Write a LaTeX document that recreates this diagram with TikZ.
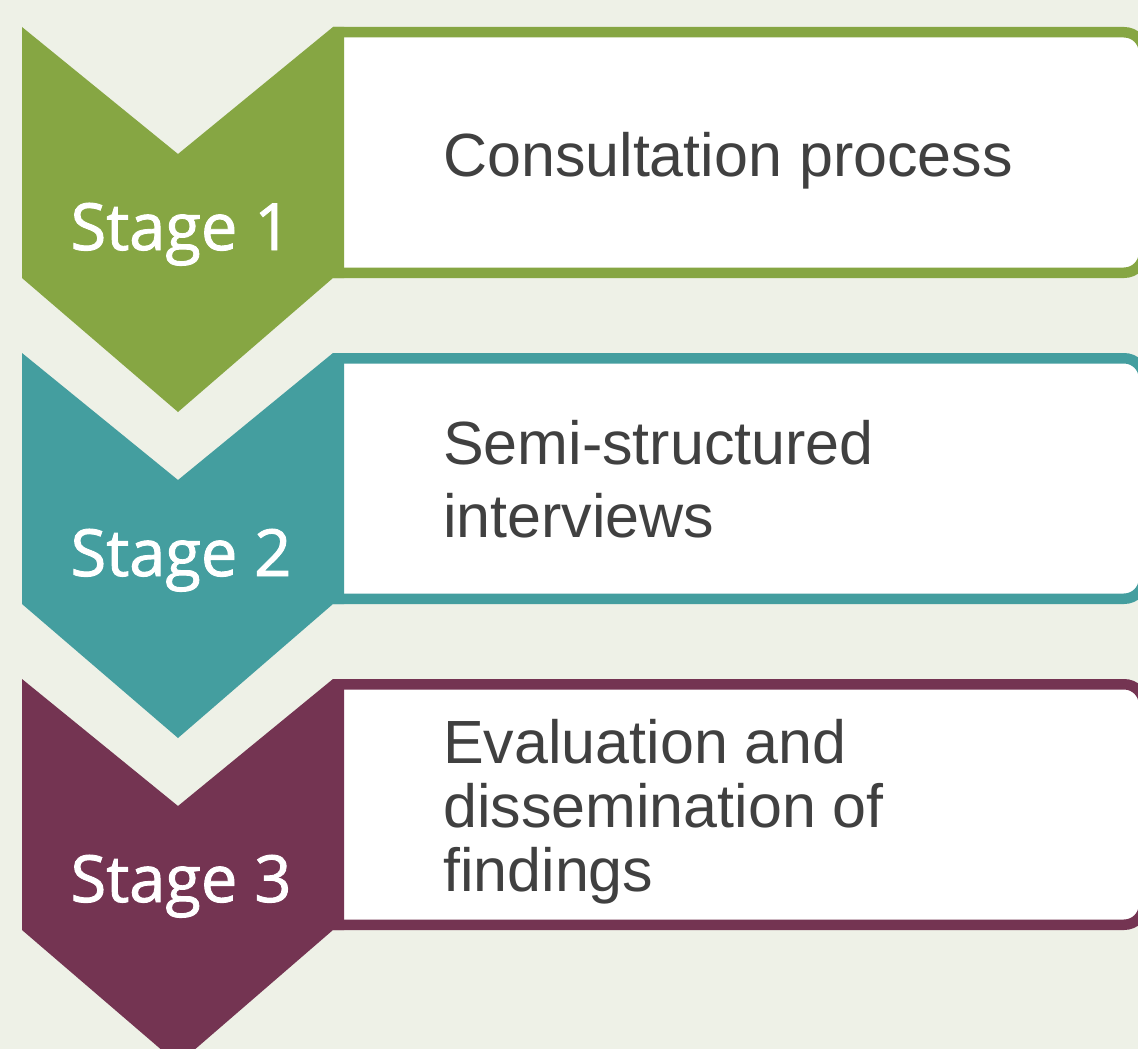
\documentclass[tikz,border=0pt]{standalone}
\usepackage{fontspec}
\setmainfont{Liberation Sans}
\newfontfamily\stagefont[FakeBold=1.4]{Open Sans}
\definecolor{bgc}{RGB}{238,241,231}
\definecolor{cgreen}{RGB}{134,166,67}
\definecolor{cteal}{RGB}{68,158,159}
\definecolor{cmaroon}{RGB}{116,52,82}
\definecolor{ctext}{RGB}{64,64,64}
\tikzset{
  chevron/.style={fill=#1, draw=none},
  boxframe/.style={draw=#1, fill=white, line width=10.5pt, rounded corners=20pt},
  stagelabel/.style={text=white, font=\stagefont\fontsize{65}{72}\selectfont, anchor=base, inner sep=0pt},
  boxtext/.style={text=ctext, align=left, anchor=base west, inner sep=0pt},
}
\begin{document}
\begin{tikzpicture}[x=1pt,y=-1pt]
\useasboundingbox (0,0) rectangle (1138,1049);
\fill[bgc] (0,0) rectangle (1138,1049);
% stage boxes and chevrons
\foreach \c/\dy in {cgreen/0, cteal/326, cmaroon/652}{
  \begin{scope}[yshift=-\dy pt]
    \draw[boxframe=\c] (333,32.25) -- (1144,32.25) -- (1144,272.75) -- (333,272.75);
    \fill[chevron=\c] (22,27) -- (178,154) -- (333,27) -- (344,27) -- (344,278) -- (333,278) -- (178,412) -- (22,278) -- cycle;
  \end{scope}
}
\node[stagelabel] (s1) at (181,250) {Stage 1};
\node[stagelabel] (s2) at (181,576) {Stage 2};
\node[stagelabel] (s3) at (181,902) {Stage 3};
% anchor "base" of a multi-line node is the baseline of its last line
\node[boxtext, font=\fontsize{61}{72}\selectfont] (t1) at (443,176) {Consultation process};
\node[boxtext, font=\fontsize{61}{73}\selectfont] (t2) at (443,537) {Semi-structured\\interviews};
\node[boxtext, font=\fontsize{61}{64}\selectfont] (t3) at (443,891) {Evaluation and\\dissemination of\\findings};
\end{tikzpicture}
\end{document}
